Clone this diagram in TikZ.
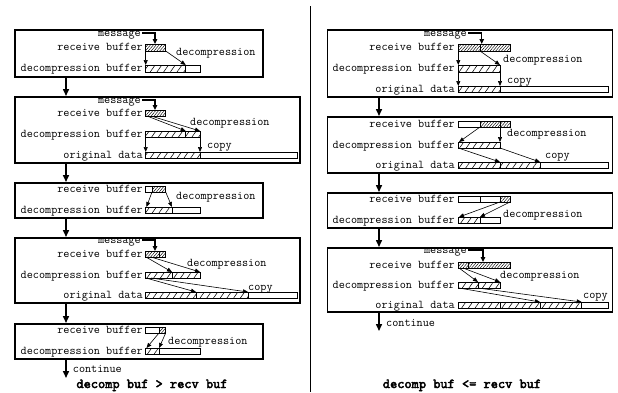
\documentclass[tikz,border=0pt]{standalone}
\usepackage{fontspec}
\newfontfamily\capfont[FakeBold=3]{lmmono10-regular.otf}
\usetikzlibrary{arrows.meta,patterns.meta}
\tikzset{
 lab/.style={font=\ttfamily\fontsize{11.85}{13}\selectfont, inner sep=0pt},
 lft/.style={lab, anchor=base east},
 rgt/.style={lab, anchor=base west},
 captext/.style={font=\capfont\fontsize{13.7}{15}\selectfont, inner sep=0pt, anchor=base},
 frame/.style={draw, line width=1.5pt, inner sep=0pt, anchor=north west},
 buf/.style={draw, line width=0.7pt},
 arr/.style={line width=0.6pt, -{Triangle[length=5pt,width=4pt]}},
 msg/.style={line width=1.2pt, -{Triangle[length=5pt,width=4.5pt]}},
 flow/.style={line width=1.5pt, -{Triangle[length=7pt,width=6pt]}},
 dense/.style={pattern={Lines[angle=50,distance=2.2pt,line width=0.45pt]}},
 sparse/.style={pattern={Lines[angle=55,distance=5.5pt,line width=0.55pt]}},
}
\newcommand\Dfill[4]{\fill[dense] (#1,#3) rectangle (#2,#4);}
\newcommand\Sfill[4]{\fill[sparse] (#1,#3) rectangle (#2,#4);}
\newcommand\Bbox[4]{\draw[buf] (#1,#3) rectangle (#2,#4);}
\newcommand\Vline[3]{\draw[buf] (#1,#2) -- (#1,#3);}
\begin{document}
\begin{tikzpicture}[x=1pt,y=-1pt]
\useasboundingbox (0,0) rectangle (618,392);
\coordinate (xl) at (66,0);
\coordinate (xr) at (379,0);
% separator
\draw[line width=0.8pt] (310,6) -- (310,392);

%================ LEFT ================
% ---- L1
\node[frame, minimum width=248pt, minimum height=47pt] (L1) at (14,29) {};
\node[lft] (m1) at (141,36) {message};
\node[lft] (r1) at (143,50.5) {receive buffer};
\node[lft] (d1) at (143,71.5) {decompression buffer};
\node[rgt] (c1) at (176,55.5) {decompression};
\Dfill{145.7}{165.7}{44}{51} \Bbox{145.7}{165.7}{44}{51}
\Sfill{145.7}{185.7}{65}{72} \Bbox{145.7}{200}{65}{72} \Vline{185.7}{65}{72}
\draw[arr] (145.7,51) -- (145.7,65);
\draw[arr] (165.7,51) -- (185.7,65);
\draw[msg] ([shift={(1pt,3pt)}]m1.base east) -| (155,44);

% ---- L2
\node[frame, minimum width=285pt, minimum height=66pt] (L2) at (14,96) {};
\node[lft] (m2) at (141,103) {message};
\node[lft] (r2) at (143,116) {receive buffer};
\node[lft] (d2) at (143,137) {decompression buffer};
\node[lft] (o2) at (143,158) {original data};
\node[rgt] (c2) at (190,125) {decompression};
\node[rgt] (p2) at (207,148) {copy};
\Dfill{145.7}{165.7}{110}{116} \Bbox{145.7}{165.7}{110}{116}
\Sfill{145.7}{200}{131}{137} \Bbox{145.7}{200}{131}{137} \Vline{185.7}{131}{137}
\Sfill{145.7}{200}{152}{158} \Bbox{145.7}{297}{152}{158} \Vline{200}{152}{158}
\draw[arr] (147,116) -- (185.7,131);
\draw[arr] (151,116) -- (200,131);
\draw[arr] (145.7,137) -- (145.7,152);
\draw[arr] (200,137) -- (200,152);
\draw[msg] ([shift={(1pt,3pt)}]m2.base east) -| (155,110);

% ---- L3
\node[frame, minimum width=248pt, minimum height=35pt] (L3) at (14,182) {};
\node[lft] (r3) at (143,192) {receive buffer};
\node[lft] (d3) at (143,213) {decompression buffer};
\node[rgt] (c3) at (176,199) {decompression};
\Dfill{152}{165.7}{186}{192} \Bbox{145.7}{165.7}{186}{192} \Vline{152}{186}{192}
\Sfill{145.7}{172}{207}{213} \Bbox{145.7}{200}{207}{213} \Vline{172}{207}{213}
\draw[arr] (152,192) -- (146.5,207);
\draw[arr] (165.7,192) -- (172,207);

% ---- L4
\node[frame, minimum width=285pt, minimum height=65pt] (L4) at (14,237) {};
\node[lft] (m4) at (141,243) {message};
\node[lft] (r4) at (143,257) {receive buffer};
\node[lft] (d4) at (143,278) {decompression buffer};
\node[lft] (o4) at (143,298) {original data};
\node[rgt] (c4) at (187,266) {decompression};
\node[rgt] (p4) at (248,290) {copy};
\Dfill{145.7}{165.7}{251}{257} \Bbox{145.7}{165.7}{251}{257} \Vline{159}{251}{257}
\Sfill{145.7}{200}{272}{278} \Bbox{145.7}{200}{272}{278} \Vline{172}{272}{278}
\Sfill{145.7}{248}{292}{298} \Bbox{145.7}{297}{292}{298} \Vline{196}{292}{298} \Vline{248}{292}{298}
\draw[arr] (146,257) -- (172,272);
\draw[arr] (151,257) -- (200,272);
\draw[arr] (146,278) -- (196,292);
\draw[arr] (151,278) -- (248,292);
\draw[msg] ([shift={(1pt,3pt)}]m4.base east) -| (155,251);

% ---- L5
\node[frame, minimum width=248pt, minimum height=35pt] (L5) at (14,323) {};
\node[lft] (r5) at (143,333) {receive buffer};
\node[lft] (d5) at (143,354) {decompression buffer};
\node[rgt] (c5) at (168,344) {decompression};
\Dfill{159}{165.7}{327}{333} \Bbox{145.7}{165.7}{327}{333} \Vline{159}{327}{333}
\Sfill{145.7}{159}{348}{354} \Bbox{145.7}{200}{348}{354} \Vline{159}{348}{354}
\draw[arr] (159,333) -- (146.5,348);
\draw[arr] (165.7,333) -- (159,348);

% left flow
\draw[flow] (L1.south -| xl) -- (L2.north -| xl);
\draw[flow] (L2.south -| xl) -- (L3.north -| xl);
\draw[flow] (L3.south -| xl) -- (L4.north -| xl);
\draw[flow] (L4.south -| xl) -- (L5.north -| xl);
\coordinate (Lend) at (66,378);
\draw[flow] (L5.south -| xl) -- (Lend);
\node[rgt] (cl) at (72.7,372) {continue};
\node[captext] (capL) at (152,388) {decomp buf > recv buf};

%================ RIGHT ================
% ---- R1
\node[frame, minimum width=284.8pt, minimum height=67pt] (R1) at (326.7,29) {};
\node[lft] (rm1) at (467,36) {message};
\node[lft] (rr1) at (455,50.5) {receive buffer};
\node[lft] (rd1) at (455,71.5) {decompression buffer};
\node[lft] (ro1) at (455,92) {original data};
\node[rgt] (rc1) at (503,62) {decompression};
\node[rgt] (rp1) at (507,83) {copy};
\Dfill{458.3}{510}{44}{51} \Bbox{458.3}{510}{44}{51} \Vline{480}{44}{51}
\Sfill{458.3}{500}{65}{72} \Bbox{458.3}{500}{65}{72}
\Sfill{458.3}{500}{86}{92} \Bbox{458.3}{608}{86}{92} \Vline{500}{86}{92}
\draw[arr] (458.3,51) -- (458.3,65);
\draw[arr] (480,51) -- (500,65);
\draw[arr] (458.3,72) -- (458.3,86);
\draw[arr] (500,72) -- (500,86);
\draw[msg] ([shift={(1pt,3pt)}]rm1.base east) -| (481.7,44);

% ---- R2
\node[frame, minimum width=284.8pt, minimum height=56pt] (R2) at (326.7,116) {};
\node[lft] (rr2) at (455,127) {receive buffer};
\node[lft] (rd2) at (455,148) {decompression buffer};
\node[lft] (ro2) at (455,168) {original data};
\node[rgt] (rc2) at (507,136) {decompression};
\node[rgt] (rp2) at (545,158) {copy};
\Dfill{480}{510}{121}{127} \Bbox{458.3}{510}{121}{127} \Vline{480}{121}{127} \Vline{500}{121}{127}
\Sfill{458.3}{500}{142}{148} \Bbox{458.3}{500}{142}{148}
\Sfill{458.3}{540}{162}{168} \Bbox{458.3}{608}{162}{168} \Vline{500}{162}{168} \Vline{540}{162}{168}
\draw[arr] (480,127) -- (459,142);
\draw[arr] (500,127) -- (500,142);
\draw[arr] (458.3,148) -- (500,162);
\draw[arr] (500,148) -- (540,162);

% ---- R3
\node[frame, minimum width=284.8pt, minimum height=35pt] (R3) at (326.7,192) {};
\node[lft] (rr3) at (455,202) {receive buffer};
\node[lft] (rd3) at (455,223) {decompression buffer};
\node[rgt] (rc3) at (503,217) {decompression};
\Dfill{500}{510}{196}{202} \Bbox{458.3}{510}{196}{202} \Vline{480}{196}{202} \Vline{500}{196}{202}
\Sfill{458.3}{480}{217}{223} \Bbox{458.3}{500}{217}{223} \Vline{480}{217}{223}
\draw[arr] (500,202) -- (459,217);
\draw[arr] (510,202) -- (480,217);

% ---- R4
\node[frame, minimum width=284.8pt, minimum height=64pt] (R4) at (326.7,247) {};
\node[lft] (rm4) at (467,253) {message};
\node[lft] (rr4) at (455,268) {receive buffer};
\node[lft] (rd4) at (455,288) {decompression buffer};
\node[lft] (ro4) at (455,308) {original data};
\node[rgt] (rc4) at (500,278) {decompression};
\node[rgt] (rp4) at (583,298) {copy};
\Dfill{458.3}{510}{262}{268} \Bbox{458.3}{510}{262}{268} \Vline{468}{262}{268}
\Sfill{458.3}{500}{282}{288} \Bbox{458.3}{500}{282}{288} \Vline{478}{282}{288}
\Sfill{458.3}{581.7}{302}{308} \Bbox{458.3}{608}{302}{308} \Vline{500}{302}{308} \Vline{540}{302}{308} \Vline{581.7}{302}{308}
\draw[arr] (459,268) -- (478,282);
\draw[arr] (463,268) -- (500,282);
\draw[arr] (459,288) -- (540,302);
\draw[arr] (478,288) -- (581.7,302);
\draw[msg] ([shift={(1pt,3pt)}]rm4.base east) -| (483,262);

% right flow
\draw[flow] (R1.south -| xr) -- (R2.north -| xr);
\draw[flow] (R2.south -| xr) -- (R3.north -| xr);
\draw[flow] (R3.south -| xr) -- (R4.north -| xr);
\coordinate (Rend) at (379,331);
\draw[flow] (R4.south -| xr) -- (Rend);
\node[rgt] (cr) at (386,326) {continue};
\node[captext] (capR) at (462,388) {decomp buf <= recv buf};
\end{tikzpicture}
\end{document}
